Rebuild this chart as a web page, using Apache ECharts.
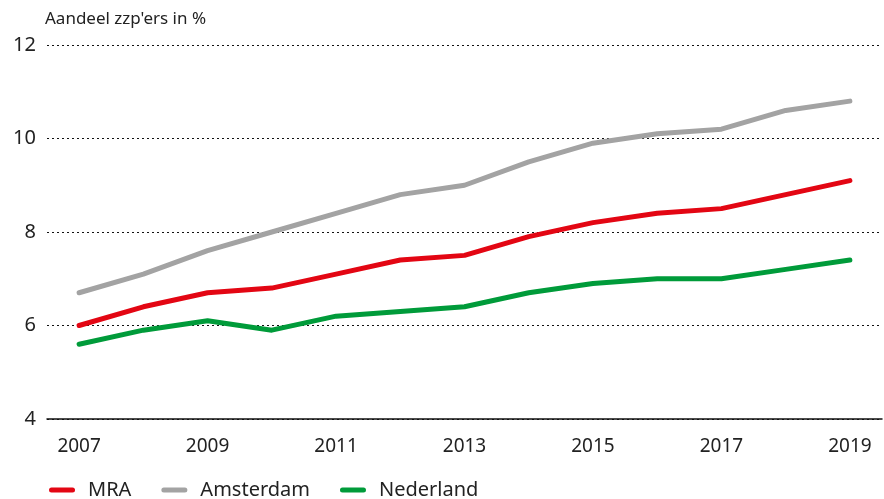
<!DOCTYPE html>
<html><head><meta charset="utf-8">
<script src="https://cdn.jsdelivr.net/npm/echarts@6/dist/echarts.min.js"></script>
<style>html,body{margin:0;padding:0;background:#fff}#c{width:884px;height:499px}</style>
</head><body><div id="c"></div>
<script>
const years = ['2007','2008','2009','2010','2011','2012','2013','2014','2015','2016','2017','2018','2019'];
const mra = [6.0,6.4,6.7,6.8,7.1,7.4,7.5,7.9,8.2,8.4,8.5,8.8,9.1];
const amsterdam = [6.7,7.1,7.6,8.0,8.4,8.8,9.0,9.5,9.9,10.1,10.2,10.6,10.8];
const nederland = [5.6,5.9,6.1,5.9,6.2,6.3,6.4,6.7,6.9,7.0,7.0,7.2,7.4];
const yTitle = "Aandeel zzp'ers in %";

const font = 'Noto Sans';
const chart = echarts.init(document.getElementById('c'));
const mk = (name, data, color) => ({
  name, type: 'line', data, symbol: 'none', smooth: false,
  lineStyle: {color, width: 5, cap: 'round', join: 'round'}, itemStyle: {color}
});
const icon = 'path://M2,0 L23,0 A2,2 0 0 1 23,5 L2,5 A2,2 0 0 1 2,0 Z';
chart.setOption({
  animation: false,
  textStyle: {fontFamily: font},
  grid: {left: 47, right: 2, top: 45, bottom: 80},
  legend: {
    left: 44, top: 475, itemGap: 30, itemWidth: 26, itemHeight: 5,
    textStyle: {fontFamily: font, fontSize: 20, color: '#222', padding: [0,0,0,8]},
    data: [{name:'MRA', icon}, {name:'Amsterdam', icon}, {name:'Nederland', icon}]
  },
  xAxis: {
    type: 'category', data: years, boundaryGap: true,
    axisLine: {lineStyle: {color: '#111', width: 1.5}},
    axisTick: {alignWithLabel: true, length: 8, lineStyle: {color: '#111', width: 1.2}, interval: 0},
    axisLabel: {interval: 1, color: '#222', fontSize: 19, margin: 18, fontFamily: font}
  },
  yAxis: {
    type: 'value', min: 4, max: 12, interval: 2,
    name: yTitle, nameLocation: 'end', nameGap: 17,
    nameTextStyle: {align: 'left', fontSize: 17, color: '#222', fontFamily: font, padding: [0,0,0,-2]},
    axisLine: {show: false}, axisTick: {show: false},
    axisLabel: {color: '#222', fontSize: 20, margin: 11, fontFamily: font},
    splitLine: {lineStyle: {color: '#111', type: [2,3], width: 1}}
  },
  series: [mk('MRA', mra, '#e30613'), mk('Amsterdam', amsterdam, '#a3a3a3'), mk('Nederland', nederland, '#009b3a')]
});
</script></body></html>
